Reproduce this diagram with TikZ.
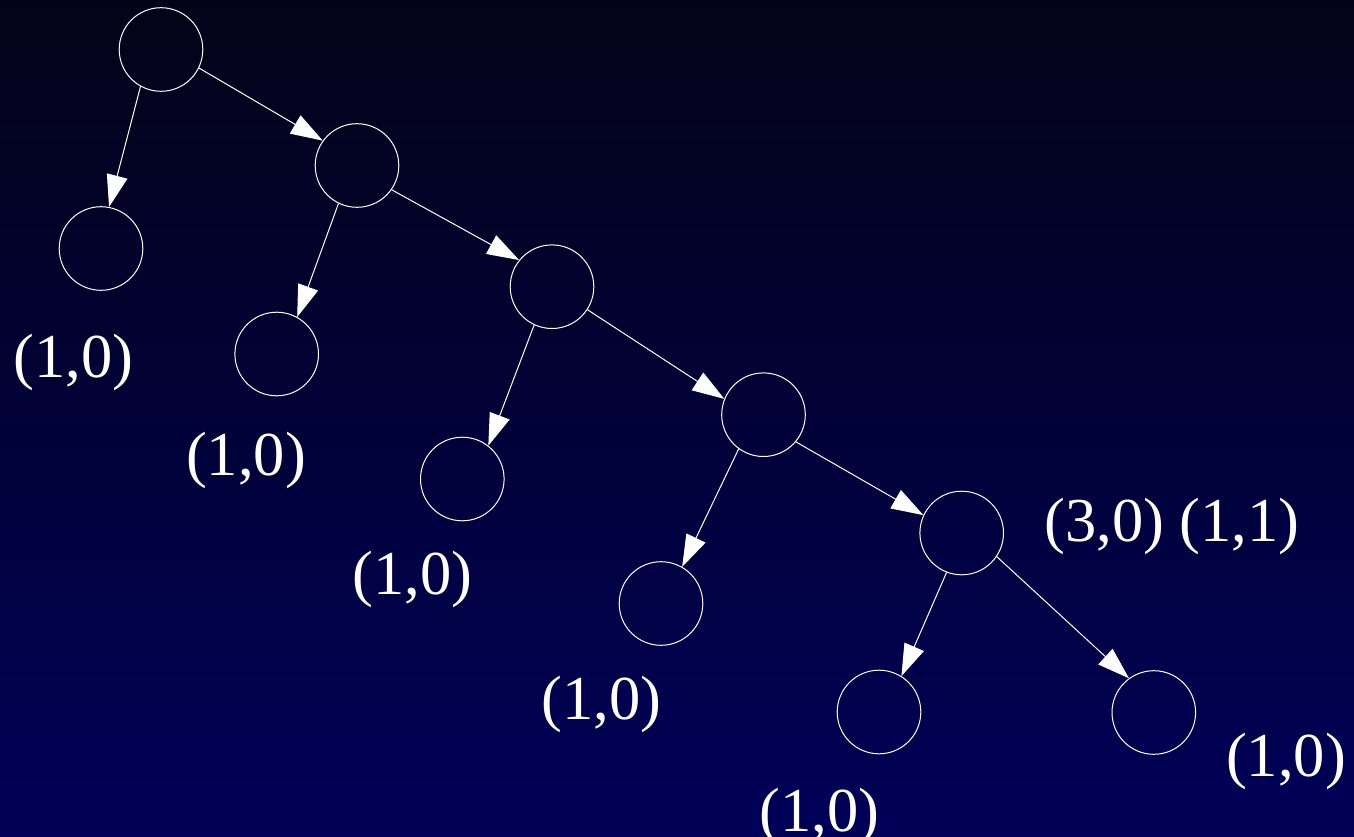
\documentclass[tikz,border=0pt]{standalone}
\usepackage{fontspec}
\setmainfont{Liberation Serif}
\usetikzlibrary{arrows.meta}

\definecolor{bgtop}{RGB}{3,3,24}
\definecolor{bgbot}{RGB}{0,0,88}

\begin{document}
\begin{tikzpicture} [
        x=1pt, y=-1pt,
        every node/.style={inner sep=0pt},
        vertex/.style={circle, draw=white, line width=1pt, minimum size=83.6pt},
        score/.style={text=white, anchor=base, font=\fontsize{62.5}{75}\selectfont},
        ->, >={Triangle[length=32pt, width=21pt]}, draw=white, line width=1pt
    ]
    % backdrop
    \shade[top color=bgtop, bottom color=bgbot, draw=none] (0,0) rectangle (1354,837);
    \useasboundingbox (0,0) rectangle (1354,837);

    \node[vertex]   (1)   at (161,49.5)     {};
    \node[vertex]   (2)   at (101,248.5)    {};
    \node[vertex]   (3)   at (357,165.5)    {};
    \node[vertex]   (4)   at (276.7,354)    {};
    \node[vertex]   (5)   at (552,286.7)    {};
    \node[vertex]   (6)   at (462.3,479)    {};
    \node[vertex]   (7)   at (763.5,414.7)  {};
    \node[vertex]   (8)   at (661,603.5)    {};
    \node[vertex]   (9)   at (961.7,533)    {};
    \node[vertex]   (10)  at (879,712)      {};
    \node[vertex]   (11)  at (1153.8,712.5) {};

    % scores
    \node[score]    (s2)  at (73.5,377)     {(1,0)};
    \node[score]    (s4)  at (246,475.7)    {(1,0)};
    \node[score]    (s6)  at (412.5,594)    {(1,0)};
    \node[score]    (s8)  at (601.5,719)    {(1,0)};
    \node[score]    (s10) at (819.5,831)    {(1,0)};
    \node[score]    (s11) at (1286,776.7)   {(1,0)};
    \node[score]    (s9)  at (1172,541.7)   {(3,0) (1,1)};

    \path
    (1.241) edge (2.79)     % root
    (1.334) edge (3.144)

    (3.244) edge (4.61)
    (3.325) edge (5.141)

    (5.245) edge (6.52)
    (5.327) edge (7.158)

    (7.234) edge (8.60)
    (7.320) edge (9.155)

    (9.249) edge (10.58)
    (9.326) edge (11.126);
\end{tikzpicture}
\end{document}
